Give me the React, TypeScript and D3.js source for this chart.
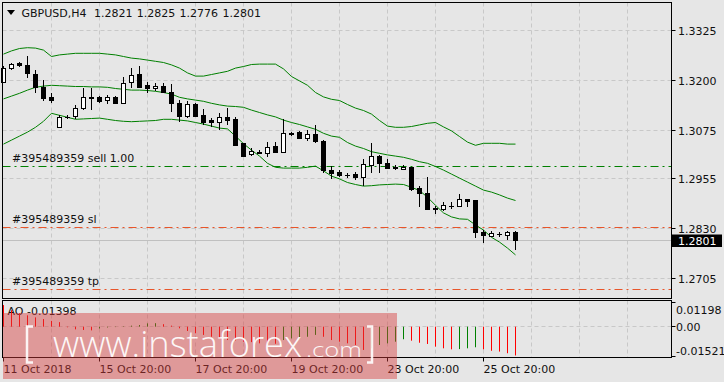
import React from "react";
import * as d3 from "d3";

const W = 724;
const H = 382;

const opens = [1.3197,1.3231,1.3243,1.3239,1.3216,1.3185,1.3158,1.3083,1.3109,1.3111,1.3132,1.3157,1.3158,1.3151,1.3158,1.3143,1.3196,1.3216,1.3189,1.3181,1.3186,1.3172,1.3143,1.3112,1.3141,1.3114,1.3100,1.3097,1.3110,1.3103,1.3043,1.3016,1.3022,1.3018,1.3035,1.3022,1.3068,1.3072,1.3056,1.3066,1.3050,1.2976,1.2972,1.2963,1.2966,1.2958,1.2990,1.3011,1.2993,1.2982,1.2978,1.2983,1.2931,1.2918,1.2879,1.2878,1.2886,1.2886,1.2904,1.2901,1.2820,1.2811,1.2816,1.2814,1.2821];
const highs = [1.3236,1.3245,1.3246,1.3260,1.3225,1.3201,1.3168,1.3114,1.3114,1.3139,1.3181,1.3181,1.3161,1.3164,1.3161,1.3210,1.3231,1.3236,1.3197,1.3193,1.3195,1.3191,1.3151,1.3150,1.3144,1.3128,1.3106,1.3118,1.3131,1.3110,1.3045,1.3031,1.3026,1.3047,1.3047,1.3103,1.3072,1.3074,1.3075,1.3089,1.3051,1.2986,1.2976,1.2970,1.2972,1.3003,1.3045,1.3014,1.3003,1.2989,1.2989,1.2985,1.2936,1.2958,1.2886,1.2895,1.2895,1.2916,1.2905,1.2902,1.2826,1.2824,1.2822,1.2824,1.2825];
const lows = [1.3194,1.3225,1.3234,1.3206,1.3170,1.3149,1.3143,1.3081,1.3103,1.3103,1.3126,1.3126,1.3144,1.3141,1.3141,1.3141,1.3181,1.3181,1.3170,1.3175,1.3168,1.3122,1.3097,1.3106,1.3109,1.3089,1.3083,1.3076,1.3089,1.3036,1.3009,1.3011,1.3016,1.3010,1.3018,1.3021,1.3061,1.3053,1.3050,1.3045,1.2970,1.2954,1.2958,1.2955,1.2952,1.2936,1.2970,1.2968,1.2978,1.2976,1.2975,1.2925,1.2885,1.2875,1.2866,1.2874,1.2878,1.2883,1.2885,1.2806,1.2793,1.2810,1.2810,1.2800,1.2776];
const closes = [1.3231,1.3241,1.3239,1.3218,1.3185,1.3156,1.3151,1.3108,1.3110,1.3132,1.3158,1.3158,1.3149,1.3158,1.3143,1.3193,1.3214,1.3185,1.3181,1.3186,1.3172,1.3143,1.3112,1.3141,1.3112,1.3095,1.3095,1.3108,1.3101,1.3039,1.3011,1.3025,1.3018,1.3033,1.3022,1.3068,1.3067,1.3056,1.3066,1.3050,1.2975,1.2970,1.2964,1.2964,1.2958,1.2991,1.3011,1.2993,1.2981,1.2983,1.2983,1.2928,1.2919,1.2878,1.2880,1.2888,1.2887,1.2903,1.2899,1.2820,1.2814,1.2818,1.2817,1.2821,1.2801];

const bbUpper = [1.3266,1.3274,1.3280,1.3282,1.3281,1.3276,1.3260,1.3264,1.3266,1.3268,1.3268,1.3268,1.3268,1.3266,1.3264,1.3260,1.3256,1.3254,1.3251,1.3248,1.3245,1.3239,1.3231,1.3219,1.3211,1.3211,1.3215,1.3219,1.3223,1.3231,1.3235,1.3240,1.3241,1.3241,1.3241,1.3229,1.3210,1.3199,1.3188,1.3170,1.3159,1.3153,1.3150,1.3140,1.3131,1.3125,1.3116,1.3100,1.3086,1.3083,1.3083,1.3085,1.3089,1.3093,1.3095,1.3084,1.3074,1.3060,1.3046,1.3038,1.3043,1.3043,1.3043,1.3041,1.3041];
const bbMiddle = [1.3154,1.3161,1.3168,1.3176,1.3183,1.3186,1.3188,1.3187,1.3186,1.3185,1.3185,1.3184,1.3184,1.3183,1.3180,1.3178,1.3176,1.3176,1.3175,1.3173,1.3170,1.3166,1.3158,1.3154,1.3151,1.3148,1.3143,1.3139,1.3136,1.3135,1.3133,1.3126,1.3120,1.3114,1.3109,1.3101,1.3095,1.3090,1.3084,1.3078,1.3068,1.3061,1.3058,1.3045,1.3036,1.3030,1.3022,1.3018,1.3014,1.3011,1.3008,1.3003,1.2997,1.2993,1.2985,1.2976,1.2966,1.2956,1.2946,1.2936,1.2926,1.2921,1.2914,1.2906,1.2900];
const bbLower = [1.3041,1.3051,1.3061,1.3071,1.3083,1.3098,1.3118,1.3113,1.3108,1.3103,1.3104,1.3105,1.3106,1.3103,1.3100,1.3098,1.3097,1.3098,1.3099,1.3100,1.3103,1.3103,1.3101,1.3099,1.3095,1.3091,1.3086,1.3081,1.3079,1.3061,1.3042,1.3026,1.3011,1.2993,1.2983,1.2981,1.2981,1.2981,1.2983,1.2986,1.2974,1.2961,1.2954,1.2945,1.2940,1.2936,1.2937,1.2939,1.2940,1.2941,1.2940,1.2933,1.2925,1.2908,1.2888,1.2869,1.2859,1.2854,1.2853,1.2839,1.2826,1.2808,1.2796,1.2781,1.2764];

const aoValues = [0.0105,0.0080,0.0065,0.0055,0.0045,0.0037,0.0028,0.0022,-0.0003,-0.0013,-0.0016,-0.0018,-0.0009,-0.0004,-0.0002,0.0002,0.0005,0.0008,0.0016,0.0017,0.0012,0.0005,-0.0008,-0.0021,-0.0032,-0.0040,-0.0049,-0.0053,-0.0065,-0.0067,-0.0073,-0.0075,-0.0081,-0.0082,-0.0083,-0.0065,-0.0057,-0.0056,-0.0049,-0.0040,-0.0049,-0.0065,-0.0073,-0.0081,-0.0089,-0.0113,-0.0105,-0.0089,-0.0081,-0.0073,-0.0061,-0.0068,-0.0078,-0.0084,-0.0097,-0.0105,-0.0110,-0.0109,-0.0105,-0.0100,-0.0110,-0.0117,-0.0121,-0.0129,-0.01398];

const priceTicks = [1.3325, 1.32, 1.3075, 1.2955, 1.283, 1.2705];
const aoTicks = [0.01198, 0.0, -0.01521];
const aoTickLabels = ["0.01198", "0.00", "-0.01521"];
const timeLabels = ["11 Oct 2018", "15 Oct 20:00", "17 Oct 20:00", "19 Oct 20:00", "23 Oct 20:00", "25 Oct 20:00"];
const timeLabelBars = [0, 12, 24, 36, 48, 60];
const gridBars = [6, 12, 18, 24, 30, 36, 42, 48, 54, 60, 66, 72, 78];
const orderLabels = ["#395489359 sell 1.00", "#395489359 sl", "#395489359 tp"];
const orderPrices = [1.2986, 1.2833, 1.2678];
const orderColors = ["#008000", "#e8552a", "#e8552a"];
const currentPrice = 1.2801;
const symbolTitle = "GBPUSD,H4";
const ohlcTitle = ["1.2821", "1.2825", "1.2776", "1.2801"];
const aoTitle = "AO -0.01398";

export default function App() {
  const n = closes.length;
  const L = 2.5, R = 671.5, T = 2.5, B = 298.5, AT = 300.5, AB = 357.5;
  const x = d3.scaleLinear().domain([0, 1]).range([3.5, 11.5]);
  const y = d3.scaleLinear().domain([1.2705, 1.3325]).range([278.5, 30.5]);
  const yA = d3.scaleLinear().domain([-0.01521, 0.01198]).range([358, 302]);
  const snap = (v: number) => Math.round(v - 0.5) + 0.5;
  const lineGen = d3.line<number>().x((_, i) => x(i)).y((v) => y(v));
  const font = "DejaVu Sans";
  const grid = "#c8c8c8";

  const candles = d3.range(n).map((i) => {
    const o = opens[i], c = closes[i], h = highs[i], l = lows[i];
    const cx = x(i);
    const top = Math.round(y(Math.max(o, c)));
    const bot = Math.round(y(Math.min(o, c)));
    const bull = c >= o;
    return (
      <g key={i}>
        <line x1={cx} x2={cx} y1={Math.round(y(h))} y2={Math.round(y(l))} stroke="#000" strokeWidth={1} />
        {bot - top >= 1 ? (
          <rect x={cx - 2} y={top + 0.5} width={4} height={bot - top} fill={bull ? "#fff" : "#000"} stroke="#000" strokeWidth={1} />
        ) : (
          <line x1={cx - 2.5} x2={cx + 2.5} y1={top + 0.5} y2={top + 0.5} stroke="#000" strokeWidth={1} />
        )}
      </g>
    );
  });

  const aoBars = aoValues.map((v, i) => {
    const up = i > 0 && v > aoValues[i - 1];
    const y0 = yA(0);
    return (
      <line key={i} x1={x(i)} x2={x(i)} y1={y0} y2={yA(v)} stroke={up ? "#008000" : "#ff0000"} strokeWidth={1} />
    );
  });

  return (
    <svg width={W} height={H} style={{ position: "absolute", left: 0, top: 0, background: "#e6e6e6" }} fontFamily={font}>
      <rect x={0} y={0} width={W} height={H} fill="#e6e6e6" />
      {/* grid main */}
      {gridBars.map((b) => (
        <line key={"vg" + b} x1={x(b)} x2={x(b)} y1={T} y2={B} stroke={grid} strokeDasharray="4,3" />
      ))}
      {priceTicks.map((p) => (
        <line key={"hg" + p} x1={L} x2={R} y1={snap(y(p))} y2={snap(y(p))} stroke={grid} strokeDasharray="4,3" />
      ))}
      {/* grid AO */}
      {gridBars.map((b) => (
        <line key={"vga" + b} x1={x(b)} x2={x(b)} y1={AT} y2={AB} stroke={grid} strokeDasharray="4,3" />
      ))}
      <line x1={L} x2={R} y1={snap(yA(0))} y2={snap(yA(0))} stroke={grid} strokeDasharray="4,3" />

      {/* current price line */}
      <line x1={L} x2={R} y1={snap(y(currentPrice))} y2={snap(y(currentPrice))} stroke="#c0c0c0" />

      {/* order lines */}
      {orderPrices.map((p, k) => (
        <g key={"ord" + k}>
          <line x1={L} x2={R} y1={snap(y(p))} y2={snap(y(p))} stroke={orderColors[k]} strokeWidth={1} strokeDasharray="8,4,2,4" />
          <text x={12} y={snap(y(p)) - 4.5} fontSize={11} fill="#111">{orderLabels[k]}</text>
        </g>
      ))}

      {/* bands */}
      <path d={lineGen(bbUpper) || ""} fill="none" stroke="#008000" strokeWidth={1} />
      <path d={lineGen(bbMiddle) || ""} fill="none" stroke="#008000" strokeWidth={1} />
      <path d={lineGen(bbLower) || ""} fill="none" stroke="#008000" strokeWidth={1} />

      {candles}

      {/* title */}
      <path d="M7,10 L15,10 L11,15 Z" fill="#000" />
      <text x={21.5} y={17} fontSize={11} fill="#111">{symbolTitle}</text>
      {ohlcTitle.map((t, k) => (
        <text key={"ot" + k} x={94 + k * 42.8} y={17} fontSize={11} fill="#111">{t}</text>
      ))}

      {/* frames */}
      <rect x={L} y={T} width={R - L} height={B - T} fill="none" stroke="#000" />
      <rect x={L} y={AT} width={R - L} height={AB - AT} fill="none" stroke="#000" />

      {/* price axis */}
      {priceTicks.map((p) => (
        <g key={"pt" + p}>
          <line x1={R} x2={R + 4} y1={snap(y(p))} y2={snap(y(p))} stroke="#000" />
          <text x={678} y={y(p) + 4.5} fontSize={11} fill="#111">{p.toFixed(4)}</text>
        </g>
      ))}
      <rect x={672} y={234.5} width={50} height={12.5} fill="#000" />
      <text x={678} y={245} fontSize={11} fill="#fff">{currentPrice.toFixed(4)}</text>

      {/* AO */}
      <text x={7.5} y={315} fontSize={11} fill="#111">{aoTitle}</text>
      {aoBars}
      <line x1={R} x2={R + 4} y1={302.5} y2={302.5} stroke="#000" />
      <line x1={R} x2={R + 4} y1={snap(yA(0))} y2={snap(yA(0))} stroke="#000" />
      <line x1={R} x2={R + 4} y1={356.5} y2={356.5} stroke="#000" />
      {aoTicks.map((v, k) => (
        <text key={"at" + k} x={676} y={k === 0 ? 314 : k === 1 ? yA(0) + 4 : 354.5} fontSize={11} fill="#111">{aoTickLabels[k]}</text>
      ))}

      {/* time axis */}
      {timeLabelBars.map((b, k) => (
        <g key={"tl" + k}>
          <line x1={x(b)} x2={x(b)} y1={AB} y2={AB + 4} stroke="#000" />
          <text x={x(b)} y={373} fontSize={11} fill="#111">{timeLabels[k]}</text>
        </g>
      ))}

      {/* watermark */}
      <g>
        <rect x={3} y={313} width={394} height={66} fill="rgb(215,60,60)" opacity={0.45} />
        <path d="M33,326.5 H27 V362.5 H33" fill="none" stroke="#fff" strokeWidth={2.5} opacity={0.9} />
        <path d="M367,326.5 H372 V362.5 H367" fill="none" stroke="#fff" strokeWidth={2.5} opacity={0.9} />
        <text x={53} y={357} fontSize={36} fontFamily="Open Sans" fontWeight={300} fill="#fff" opacity={0.92} textLength={249} lengthAdjust="spacingAndGlyphs">www.instaforex</text>
        <text x={306} y={357} fontSize={21} fontFamily="Open Sans" fontWeight={300} fill="#fff" opacity={0.92} textLength={56} lengthAdjust="spacingAndGlyphs">.com</text>
      </g>
    </svg>
  );
}
